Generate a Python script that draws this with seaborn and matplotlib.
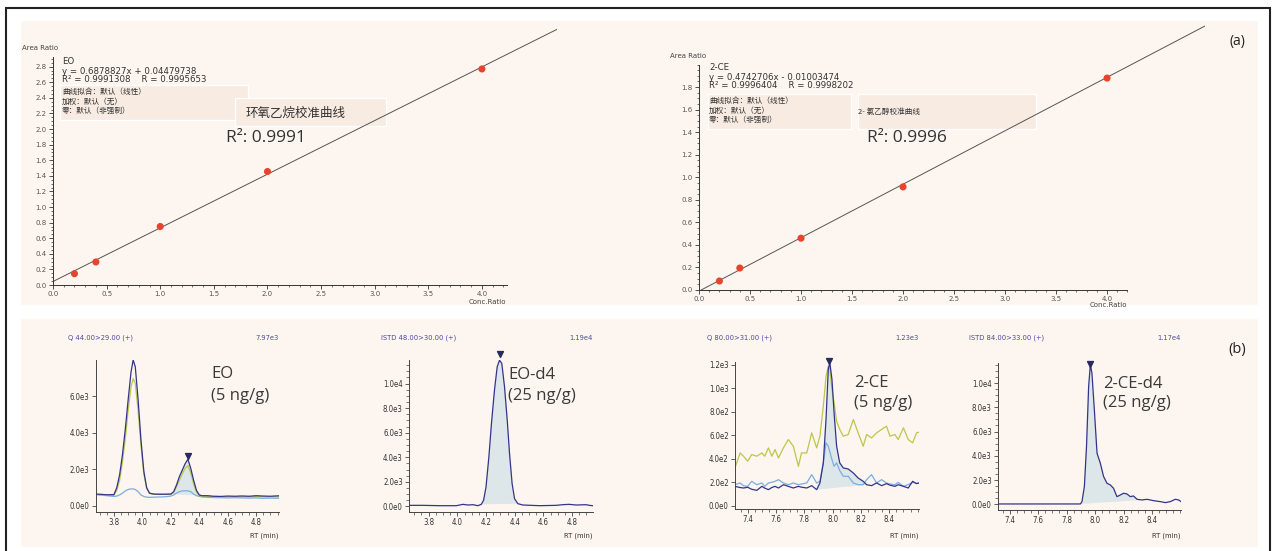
import numpy as np
import matplotlib.pyplot as plt
import seaborn as sns
from matplotlib.patches import Rectangle
from matplotlib.ticker import MultipleLocator, FuncFormatter, FormatStrFormatter

# ---- calibration curves (a) ----
conc_ratio = [0.2, 0.4, 1.0, 2.0, 4.0]
eo_area_ratio = [0.145, 0.295, 0.75, 1.455, 2.77]
ce_area_ratio = [0.08, 0.195, 0.46, 0.915, 1.88]
eo_fit = (0.6878827, 0.04479738)
ce_fit = (0.4742706, -0.01003474)
eo_fit_range = [0.0, 4.70]
ce_fit_range = [0.02, 4.96]

# ---- chromatograms (b) ----
eo_rt = [3.674, 3.70, 3.75, 3.80, 3.82, 3.84, 3.86, 3.88, 3.90, 3.92, 3.935, 3.95,
         3.97, 3.99, 4.01, 4.03, 4.05, 4.08, 4.12, 4.16, 4.20, 4.22, 4.24, 4.26,
         4.28, 4.30, 4.32, 4.34, 4.36, 4.38, 4.40, 4.42, 4.46, 4.50, 4.55, 4.60,
         4.65, 4.70, 4.75, 4.80, 4.85, 4.90, 4.96]
eo_quant = [650, 640, 610, 620, 1000, 1700, 2800, 4200, 5800, 7300, 7970, 7600,
            5800, 3600, 1900, 1000, 700, 650, 640, 640, 650, 780, 1150, 1600,
            1950, 2300, 2550, 2050, 1400, 850, 600, 560, 560, 530, 520, 540,
            530, 545, 530, 560, 540, 530, 555]
eo_qual1 = [620, 600, 580, 580, 850, 1400, 2400, 3700, 5200, 6500, 6950, 6700,
            5200, 3300, 1750, 950, 680, 640, 640, 640, 640, 740, 1050, 1400,
            1750, 2050, 2200, 1800, 1200, 750, 560, 540, 520, 500, 490, 500,
            490, 500, 500, 510, 500, 490, 500]
eo_qual2 = [640, 600, 560, 520, 540, 600, 700, 820, 900, 930, 930, 900,
            780, 600, 520, 480, 470, 480, 490, 500, 540, 600, 700, 780,
            820, 830, 820, 780, 650, 560, 520, 490, 470, 460, 450, 440,
            450, 440, 430, 440, 420, 430, 420]

eod4_rt = [3.663, 3.76, 3.877, 3.993, 4.039, 4.074, 4.109, 4.143, 4.167, 4.183,
           4.20, 4.22, 4.238, 4.259, 4.278, 4.294, 4.31, 4.329, 4.348, 4.364,
           4.382, 4.399, 4.422, 4.457, 4.573, 4.689, 4.735, 4.78, 4.828, 4.897,
           4.92, 4.944]
eod4_istd = [82, 82, 54, 54, 163, 109, 136, 54, 163, 490,
             1580, 4030, 6750, 9470, 11370, 11900, 11650, 9740, 7020, 4300,
             1850, 626, 218, 109, 54, 82, 136, 163, 109, 136,
             82, 54]

ce_rt = [7.31, 7.346, 7.37, 7.40, 7.428, 7.464, 7.50, 7.52, 7.546, 7.57,
         7.593, 7.617, 7.652, 7.687, 7.722, 7.758, 7.78, 7.817, 7.852, 7.887,
         7.91, 7.934, 7.953, 7.969, 7.98, 7.995, 8.01, 8.028, 8.05, 8.075,
         8.11, 8.146, 8.18, 8.216, 8.24, 8.275, 8.31, 8.346, 8.38, 8.405,
         8.44, 8.463, 8.50, 8.534, 8.565, 8.593, 8.61]
ce_quant = [165, 155, 151, 157, 140, 131, 165, 150, 137, 155,
            165, 151, 179, 165, 151, 165, 158, 151, 171, 137,
            194, 365, 735, 1162, 1219, 1077, 792, 507, 365, 322,
            313, 279, 236, 208, 179, 171, 194, 171, 188, 175,
            165, 179, 165, 151, 208, 188, 194]
ce_qual1 = [322, 450, 422, 379, 436, 422, 450, 422, 493, 422,
            479, 407, 493, 564, 507, 336, 450, 450, 621, 493,
            593, 849, 1100, 1191, 1162, 991, 880, 720, 650, 593,
            607, 735, 621, 507, 607, 578, 621, 650, 678, 593,
            607, 564, 664, 564, 536, 621, 627]
ce_qual2 = [179, 194, 170, 165, 208, 179, 194, 165, 194, 200,
            208, 222, 194, 179, 194, 179, 185, 194, 265, 194,
            208, 365, 536, 507, 460, 393, 336, 365, 300, 251,
            251, 194, 179, 179, 222, 265, 194, 222, 194, 185,
            179, 199, 165, 180, 199, 190, 194]

ced4_rt = [7.318, 7.50, 7.70, 7.897, 7.908, 7.925, 7.94, 7.955, 7.967, 7.978,
           7.995, 8.014, 8.037, 8.06, 8.084, 8.107, 8.13, 8.154, 8.178, 8.20,
           8.224, 8.248, 8.27, 8.295, 8.33, 8.365, 8.41, 8.459, 8.494, 8.529,
           8.564, 8.587, 8.604]
ced4_istd = [28, 28, 28, 28, 220, 1460, 4770, 9720, 11520, 10830,
             7800, 4210, 3390, 2290, 1735, 1600, 1320, 630, 770, 910,
             854, 630, 690, 413, 358, 413, 303, 220, 138, 220,
             413, 358, 220]

# integration windows (start, end) of the shaded peak area
eo_window = (4.20, 4.42)
eod4_window = (4.167, 4.422)
ce_window = (7.887, 8.24)
ced4_window = (7.897, 8.33)

peak_rt = [4.32, 4.30, 7.975, 7.965]
peak_marker_y = [2730, 12380, 1234, 11570]

eo_rt_ticks = [3.8, 4.0, 4.2, 4.4, 4.6, 4.8]
ce_rt_ticks = [7.4, 7.6, 7.8, 8.0, 8.2, 8.4]

W, H = 1273, 551
sns.set_style("ticks")
plt.rcParams['font.family'] = ['DejaVu Sans', 'Noto Sans CJK SC']
CJK = ['Noto Sans CJK SC', 'DejaVu Sans']
BIG = ['Open Sans', 'Noto Sans CJK SC']
NARROW = ['Liberation Sans Narrow', 'DejaVu Sans']

fig = plt.figure(figsize=(W / 100, H / 100), dpi=100)
fig.patch.set_facecolor('white')


def px_axes(l, t, r, b):
    ax = fig.add_axes([l / W, 1 - b / H, (r - l) / W, (b - t) / H])
    ax.set_facecolor('none')
    for s in ['top', 'right']:
        ax.spines[s].set_visible(False)
    return ax


def ftext(x, y, s, **kw):
    fig.text(x / W, 1 - y / H, s, **kw)


def frect(l, t, r, b, color, z=-1, **kw):
    fig.add_artist(Rectangle((l / W, 1 - b / H), (r - l) / W, (b - t) / H,
                             transform=fig.transFigure, facecolor=color,
                             zorder=z, **kw))


# backgrounds and outer frame
frect(20, 20, 1258, 305, '#fdf5f0')
frect(20, 318, 1258, 547, '#fdf5f0')
frect(6, 8, 1270, 560, 'none', z=5, edgecolor='#222222', linewidth=1.5)

# ---------------- (a) calibration ----------------
def calib(ax, y, fit, fit_range, ylim, ymax_tick, xspine):
    sns.scatterplot(x=conc_ratio, y=y, ax=ax, color='#e8432d', s=26,
                    edgecolor='none', zorder=3)
    ax.plot(fit_range, [fit[0] * v + fit[1] for v in fit_range],
            color='#555555', lw=0.7, zorder=2)
    ax.set_xlim(0, fit_range[1])
    ax.set_ylim(*ylim)
    ax.spines['bottom'].set_bounds(0, xspine)
    ax.spines['left'].set_bounds(0, ymax_tick)
    for s in ['left', 'bottom']:
        ax.spines[s].set_color('#333333')
        ax.spines[s].set_linewidth(0.7)
    ax.set_xticks(np.arange(0, 4.01, 0.5))
    ax.set_xticks(np.arange(0, xspine + 0.001, 0.1), minor=True)
    ax.set_yticks(np.arange(0, ymax_tick - 0.05, 0.2))
    ax.set_yticks(np.arange(0, ymax_tick + 0.001, 0.05), minor=True)
    ax.xaxis.set_major_formatter(FormatStrFormatter('%.1f'))
    ax.yaxis.set_major_formatter(FormatStrFormatter('%.1f'))
    ax.tick_params(which='major', length=3, width=0.6, color='#333333',
                   labelsize=5, labelcolor='#555555', pad=1.5)
    ax.tick_params(which='minor', length=1.5, width=0.5, color='#333333')


ax_eo = px_axes(53, 28, 557, 285)
calib(ax_eo, eo_area_ratio, eo_fit, eo_fit_range, (0, 3.295), 2.92, 4.23)
ax_ce = px_axes(699, 24, 1205, 290)
calib(ax_ce, ce_area_ratio, ce_fit, ce_fit_range, (0, 2.36), 2.0, 4.2)

for x, y in [(22, 48), (670, 56)]:
    ftext(x, y, 'Area Ratio', fontsize=5, color='#444444', va='center')
for x, y in [(506, 302), (1127, 305)]:
    ftext(x, y, 'Conc.Ratio', fontsize=5, color='#444444', va='center', ha='right')

# annotation boxes
BOX = '#f7ebe2'
frect(60, 85, 248, 120, BOX, z=-0.5)
frect(235, 98, 386, 126, BOX, z=-0.5)
frect(708, 94, 851, 129, BOX, z=-0.5)
frect(858, 94, 1036, 129, BOX, z=-0.5)

fit_info = ['曲线拟合：默认（线性）', '加权：默认（无）', '零：默认（非强制）']
for name, eq, r2, x0, ys, ycjk in [
        ('EO', 'y = 0.6878827x + 0.04479738', 'R² = 0.9991308    R = 0.9995653',
         62, [62, 71, 80], [92.5, 101.5, 110.5]),
        ('2-CE', 'y = 0.4742706x - 0.01003474', 'R² = 0.9996404    R = 0.9998202',
         709, [68, 77, 86], [101.5, 110.5, 119.5])]:
    for s, y in zip([name, eq, r2], ys):
        ftext(x0, y, s, fontsize=6.2, color='#333333', va='center')
    for s, y in zip(fit_info, ycjk):
        ftext(x0, y, s, fontsize=5.5, color='#333333', va='center', family=CJK)

ftext(246, 113, '环氧乙烷校准曲线', fontsize=9, color='#333333', va='center', family=CJK)
ftext(858, 112, '2- 氯乙醇校准曲线', fontsize=5.5, color='#333333', va='center', family=CJK)
ftext(226, 138, 'R²: 0.9991', fontsize=12.5, color='#333333', va='center', family=BIG)
ftext(867, 138, 'R²: 0.9996', fontsize=12.5, color='#333333', va='center', family=BIG)
ftext(1230, 42, '(a)', fontsize=10, color='#222222', va='center', family=BIG)
ftext(1228, 349, '(b)', fontsize=10.5, color='#222222', va='center', family=BIG)

# ---------------- (b) chromatograms ----------------
NAVY = '#34348a'
YEL = '#b9c84a'
LBLUE = '#79aee0'
FILL = '#dde6e8'


def sci(v, pos=None):
    if v == 0:
        return '0.0e0'
    e = int(np.floor(np.log10(abs(v))))
    return f'{v / 10 ** e:.1f}e{e}'


def chrom(ax, rt, traces, window, pk, pk_y, xlim, ylim, xmaj, ymaj, yminor):
    sel = [(x, y) for x, y in zip(rt, traces[0][0]) if window[0] <= x <= window[1]]
    fx = [p[0] for p in sel]
    fy = [p[1] for p in sel]
    ax.fill(fx, fy, color=FILL, lw=0, zorder=1)
    for vals, col in traces[::-1]:
        sns.lineplot(x=rt, y=vals, ax=ax, color=col, lw=0.9, sort=False,
                     estimator=None, zorder=2)
    ax.scatter([pk], [pk_y], marker='v', s=18, color='#2a2a5e', zorder=4,
               clip_on=False)
    ax.set_xlim(*xlim)
    ax.set_ylim(*ylim)
    ax.set_xticks(xmaj)
    ax.xaxis.set_minor_locator(MultipleLocator(0.05))
    ax.xaxis.set_major_formatter(FormatStrFormatter('%.1f'))
    ax.set_yticks(ymaj)
    if yminor:
        ax.yaxis.set_minor_locator(MultipleLocator(yminor))
    ax.yaxis.set_major_formatter(FuncFormatter(sci))
    for s in ['left', 'bottom']:
        ax.spines[s].set_color('#444444')
        ax.spines[s].set_linewidth(0.7)
    ax.tick_params(which='major', length=3, width=0.6, color='#444444',
                   labelsize=5.6, labelcolor='#333333', pad=1.5)
    ax.tick_params(which='minor', length=2.2, width=0.5, color='#444444')
    for lab in ax.get_xticklabels() + ax.get_yticklabels():
        lab.set_family(NARROW)
        lab.set_stretch('condensed')
    ax.set_xlabel('')
    ax.set_ylabel('')


panels = [
    dict(box=(96, 360, 279, 512), rt=eo_rt,
         traces=[(eo_quant, NAVY), (eo_qual1, YEL), (eo_qual2, LBLUE)],
         window=eo_window, xlim=(3.674, 4.96), ylim=(-330, 7970), xmaj=eo_rt_ticks,
         ymaj=[0, 2000, 4000, 6000], yminor=None,
         head='Q 44.00>29.00 (+)', hx=68, top='7.97e3',
         lab=('EO', '(5 ng/g)'), lx=211, ly=(378, 400)),
    dict(box=(409, 360, 593, 512), rt=eod4_rt, traces=[(eod4_istd, NAVY)],
         window=eod4_window, xlim=(3.663, 4.946), ylim=(-460, 11920), xmaj=eo_rt_ticks,
         ymaj=[0, 2000, 4000, 6000, 8000, 10000], yminor=500,
         head='ISTD 48.00>30.00 (+)', hx=381, top='1.19e4',
         lab=('EO-d4', '(25 ng/g)'), lx=508, ly=(379, 400)),
    dict(box=(735, 362, 919, 509), rt=ce_rt,
         traces=[(ce_quant, NAVY), (ce_qual1, YEL), (ce_qual2, LBLUE)],
         window=ce_window, xlim=(7.31, 8.61), ylim=(-28, 1225), xmaj=ce_rt_ticks,
         ymaj=[0, 200, 400, 600, 800, 1000, 1200], yminor=None,
         head='Q 80.00>31.00 (+)', hx=707, top='1.23e3',
         lab=('2-CE', '(5 ng/g)'), lx=854, ly=(387, 407)),
    dict(box=(998, 363, 1181, 510), rt=ced4_rt, traces=[(ced4_istd, NAVY)],
         window=ced4_window, xlim=(7.318, 8.604), ylim=(-470, 11650), xmaj=ce_rt_ticks,
         ymaj=[0, 2000, 4000, 6000, 8000, 10000], yminor=500,
         head='ISTD 84.00>33.00 (+)', hx=969, top='1.17e4',
         lab=('2-CE-d4', '(25 ng/g)'), lx=1103, ly=(388, 407)),
]

for i, p in enumerate(panels):
    ax = px_axes(*p['box'])
    chrom(ax, p['rt'], p['traces'], p['window'], peak_rt[i], peak_marker_y[i],
          p['xlim'], p['ylim'], p['xmaj'], p['ymaj'], p['yminor'])
    l, t, r, b = p['box']
    small = dict(fontsize=5.4, va='center', family=NARROW, stretch='condensed')
    ftext(p['hx'], 338, p['head'], color='#4a4a9a', **small)
    ftext(r, 338, p['top'], color='#4a4a9a', ha='right', **small)
    ftext(r, 536, 'RT (min)', color='#333333', ha='right', **small)
    for s, y in zip(p['lab'], p['ly']):
        ftext(p['lx'], y, s, fontsize=12, color='#3a3a3a', va='baseline', family=BIG)

fig.savefig('out.png', dpi=100, facecolor='white')
